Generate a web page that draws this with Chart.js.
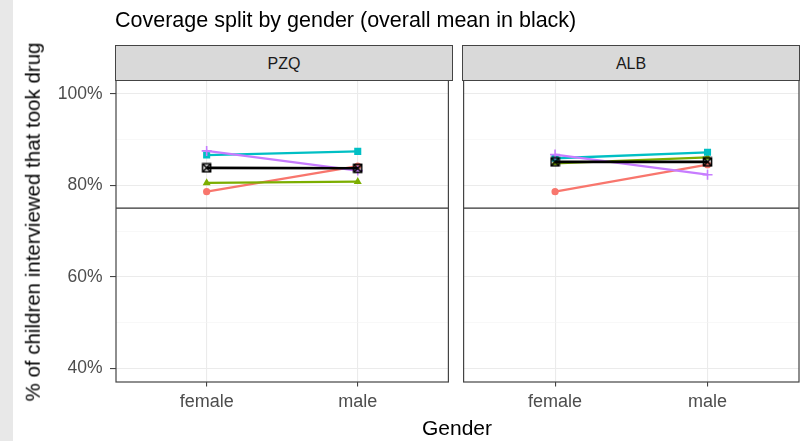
<!DOCTYPE html>
<html>
<head>
<meta charset="utf-8">
<script src="https://cdn.jsdelivr.net/npm/chart.js@4/dist/chart.umd.min.js"></script>
<style>
  html, body { margin: 0; padding: 0; background: #fff; }
  #wrap { position: relative; width: 809px; height: 441px; background: #fff; overflow: hidden;
          font-family: 'Liberation Sans', Arial, sans-serif; }
  #edge { position: absolute; left: 0; top: 0; width: 13px; height: 441px; background: #e8e8e8; }
  canvas { position: absolute; top: 0; }
  .title { position: absolute; left: 115px; top: 10px; font-size: 21.5px; line-height: 1; color: #000; white-space: nowrap; }
  .strip { position: absolute; top: 45px; height: 36px; width: 338px; box-sizing: border-box;
           background: #d9d9d9; border: 1px solid #444; color: #1a1a1a; font-size: 16px;
           display: flex; align-items: center; justify-content: center; padding-top: 2px; }
  .ytitle { position: absolute; left: 33px; top: 222px; font-size: 20.5px; line-height: 1; color: #000;
            white-space: nowrap; transform: translate(-50%, -50%) rotate(-90deg); }
  .xtitle { position: absolute; left: 457px; top: 417px; font-size: 21px; line-height: 1; color: #000;
            white-space: nowrap; transform: translateX(-50%); }
</style>
</head>
<body>
<div id="wrap">
  <div id="edge"></div>
  <canvas id="panelPZQ" width="456" height="441" style="left:0"></canvas>
  <canvas id="panelALB" width="353" height="441" style="left:456px"></canvas>
  <div class="title">Coverage split by gender (overall mean in black)</div>
  <div class="strip" id="stripPZQ" style="left:115px"></div>
  <div class="strip" id="stripALB" style="left:462px"></div>
  <div class="ytitle">% of children interviewed that took drug</div>
  <div class="xtitle">Gender</div>
</div>
<script>
// ---- data ----
const genders = ['female', 'male'];
const facets = ['PZQ', 'ALB'];
const yTicks = [40, 60, 80, 100];
const targetCoverage = 75;

// coverage (%) for each group, female then male
const pzqGroup1 = [78.6, 84.2];
const pzqGroup2 = [80.5, 80.8];
const pzqGroup3 = [86.6, 87.4];
const pzqGroup4 = [87.5, 83.2];
const pzqMean   = [83.8, 83.7];

const albGroup1 = [78.6, 84.5];
const albGroup2 = [84.8, 86.1];
const albGroup3 = [85.9, 87.2];
const albGroup4 = [86.7, 82.3];
const albMean   = [85.1, 85.1];

// ---- drawing ----
const FONT = "'Liberation Sans', Arial, sans-serif";
const groupColors = ['#F8766D', '#7CAE00', '#00BFC4', '#C77CFF'];

document.getElementById('stripPZQ').textContent = facets[0];
document.getElementById('stripALB').textContent = facets[1];

// open square with a diagonal cross for the overall mean
function boxCross() {
  const c = document.createElement('canvas');
  c.width = 11; c.height = 11;
  const g = c.getContext('2d');
  g.strokeStyle = '#000';
  g.lineWidth = 1.6;
  g.strokeRect(1.5, 1.5, 8, 8);
  g.beginPath();
  g.moveTo(1.5, 1.5); g.lineTo(9.5, 9.5);
  g.moveTo(9.5, 1.5); g.lineTo(1.5, 9.5);
  g.stroke();
  return c;
}
const meanMarker = boxCross();

function toPoints(vals) {
  return vals.map((v, i) => ({ x: i + 1, y: v }));
}

function buildDatasets(groups, mean) {
  const styles = [
    { pointStyle: 'circle', pointRadius: 3.6 },
    { pointStyle: 'triangle', pointRadius: 4.6 },
    { pointStyle: 'rect', pointRadius: 5 },
    { pointStyle: 'cross', pointRadius: 5 }
  ];
  const coloured = groups.map((vals, k) => ({
    data: toPoints(vals),
    borderColor: groupColors[k],
    backgroundColor: groupColors[k],
    pointBackgroundColor: groupColors[k],
    pointBorderColor: groupColors[k],
    pointBorderWidth: k === 3 ? 1.6 : 0,
    borderWidth: 2.3,
    pointStyle: styles[k].pointStyle,
    pointRadius: styles[k].pointRadius,
    tension: 0
  }));
  const meanSet = {
    data: toPoints(mean),
    borderColor: '#000',
    backgroundColor: '#000',
    borderWidth: 2.6,
    pointStyle: meanMarker,
    pointRadius: 5,
    tension: 0
  };
  // first dataset is drawn last (on top)
  return [meanSet].concat(coloured.reverse());
}

const panelDecor = {
  id: 'panelDecor',
  beforeDatasetsDraw(chart) {
    const { ctx, chartArea: a, scales: { y } } = chart;
    const py = y.getPixelForValue(targetCoverage);
    ctx.save();
    ctx.strokeStyle = '#333';
    ctx.lineWidth = 1.2;
    ctx.beginPath();
    ctx.moveTo(a.left, py);
    ctx.lineTo(a.right, py);
    ctx.stroke();
    ctx.restore();
  },
  afterDraw(chart) {
    const { ctx, chartArea: a } = chart;
    ctx.save();
    ctx.strokeStyle = '#444';
    ctx.lineWidth = 1.2;
    ctx.strokeRect(a.left, a.top, a.right - a.left, a.bottom - a.top);
    ctx.restore();
  }
};

const allYTicks = [];
for (let i = 0; i < yTicks.length; i++) {
  allYTicks.push(yTicks[i]);
  if (i < yTicks.length - 1) allYTicks.push((yTicks[i] + yTicks[i + 1]) / 2);
}
allYTicks.sort((a, b) => a - b);

function makeOptions(showY, padLeft, padRight, yWidth) {
  return {
    responsive: false,
    animation: false,
    devicePixelRatio: 1,
    layout: { padding: { top: 80, left: padLeft, right: padRight, bottom: 0 } },
    plugins: { legend: { display: false }, tooltip: { enabled: false } },
    scales: {
      x: {
        type: 'linear',
        min: 0.4,
        max: 2.6,
        afterBuildTicks: s => { s.ticks = genders.map((g, i) => ({ value: i + 1 })); },
        afterFit: s => { s.height = 59; },
        ticks: {
          callback: v => genders[Math.round(v) - 1] || '',
          font: { family: FONT, size: 18 },
          color: '#4d4d4d',
          padding: 5,
          maxRotation: 0,
          autoSkip: false
        },
        grid: { color: '#ebebeb', lineWidth: 1.1, tickLength: 4.5, tickColor: '#444' },
        border: { display: false }
      },
      y: {
        type: 'linear',
        min: 37,
        max: 103,
        afterBuildTicks: s => { s.ticks = allYTicks.map(v => ({ value: v })); },
        afterFit: s => { s.width = yWidth; },
        ticks: {
          display: showY,
          callback: v => yTicks.includes(v) ? v + '%' : '',
          font: { family: FONT, size: 17.5 },
          color: '#4d4d4d',
          padding: 7.5,
          autoSkip: false
        },
        grid: {
          color: c => yTicks.includes(c.tick.value) ? '#ebebeb' : '#f4f4f4',
          lineWidth: c => yTicks.includes(c.tick.value) ? 1.1 : 0.6,
          drawTicks: showY,
          tickLength: 6,
          tickColor: c => yTicks.includes(c.tick.value) ? '#444' : 'rgba(0,0,0,0)'
        },
        border: { display: false }
      }
    }
  };
}

new Chart(document.getElementById('panelPZQ'), {
  type: 'line',
  data: { datasets: buildDatasets([pzqGroup1, pzqGroup2, pzqGroup3, pzqGroup4], pzqMean) },
  options: makeOptions(true, 0, 4, 116),
  plugins: [panelDecor]
});

new Chart(document.getElementById('panelALB'), {
  type: 'line',
  data: { datasets: buildDatasets([albGroup1, albGroup2, albGroup3, albGroup4], albMean) },
  options: makeOptions(false, 7, 10, 0),
  plugins: [panelDecor]
});
</script>
</body>
</html>
